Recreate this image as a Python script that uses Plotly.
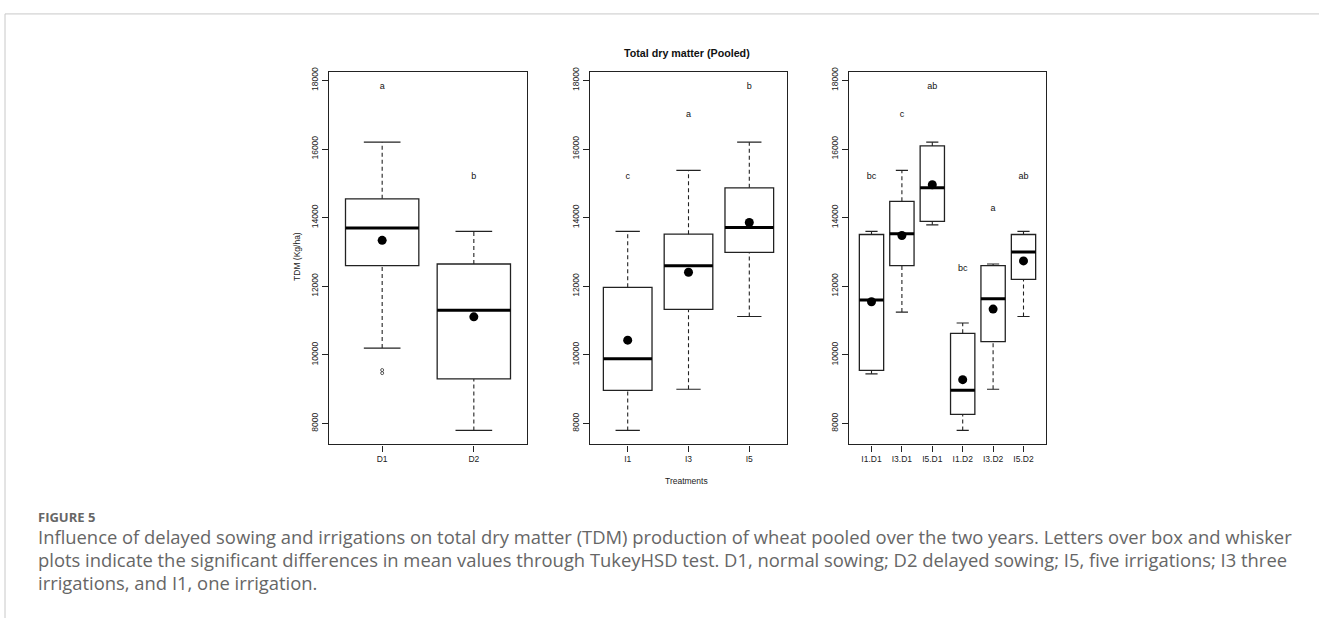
import plotly.graph_objects as go

# ---------------- data ----------------
p1_cats = ["D1", "D2"]
p1_q1 = [12600, 9300]
p1_med = [13700, 11300]
p1_q3 = [14550, 12650]
p1_lo = [10200, 7800]
p1_hi = [16200, 13600]
p1_mean = [13340, 11110]
p1_letters = ["a", "b"]
p1_letter_y = [17800, 15200]
p1_out_x = ["D1", "D1"]
p1_out_y = [9470, 9560]

p2_cats = ["I1", "I3", "I5"]
p2_q1 = [8970, 11330, 12990]
p2_med = [9890, 12600, 13710]
p2_q3 = [11970, 13520, 14870]
p2_lo = [7800, 9000, 11120]
p2_hi = [13600, 15380, 16200]
p2_mean = [10430, 12410, 13860]
p2_letters = ["c", "a", "b"]
p2_letter_y = [15200, 17000, 17800]

p3_cats = ["I1.D1", "I3.D1", "I5.D1", "I1.D2", "I3.D2", "I5.D2"]
p3_q1 = [9550, 12600, 13890, 8270, 10390, 12200]
p3_med = [11600, 13530, 14870, 8970, 11640, 13000]
p3_q3 = [13510, 14475, 16090, 10630, 12600, 13510]
p3_lo = [9450, 11250, 13790, 7800, 9000, 11120]
p3_hi = [13600, 15380, 16200, 10930, 12650, 13600]
p3_mean = [11550, 13480, 14960, 9280, 11335, 12740]
p3_letters = ["bc", "c", "ab", "bc", "a", "ab"]
p3_letter_y = [15200, 17000, 17800, 12500, 14250, 15200]

y_ticks = [8000, 10000, 12000, 14000, 16000, 18000]

caption_head = "FIGURE 5"
caption_lines = [
    "Influence of delayed sowing and irrigations on total dry matter (TDM) production of wheat pooled over the two years. Letters over box and whisker",
    "plots indicate the significant differences in mean values through TukeyHSD test. D1, normal sowing; D2 delayed sowing; I5, five irrigations; I3 three",
    "irrigations, and I1, one irrigation.",
]

# ---------------- layout geometry ----------------
W, H = 1319, 618
panels = [
    dict(cats=p1_cats, q1=p1_q1, med=p1_med, q3=p1_q3, lo=p1_lo, hi=p1_hi,
         mean=p1_mean, letters=p1_letters, ly=p1_letter_y, px=(329, 527)),
    dict(cats=p2_cats, q1=p2_q1, med=p2_med, q3=p2_q3, lo=p2_lo, hi=p2_hi,
         mean=p2_mean, letters=p2_letters, ly=p2_letter_y, px=(590, 787)),
    dict(cats=p3_cats, q1=p3_q1, med=p3_med, q3=p3_q3, lo=p3_lo, hi=p3_hi,
         mean=p3_mean, letters=p3_letters, ly=p3_letter_y, px=(849, 1046)),
]
top_px, bot_px = 68, 443
ydom = [1 - bot_px / H, 1 - top_px / H]
yrange = [7393, 18231]

FONT = "Liberation Sans, Arial, sans-serif"
BW = 0.8      # box width
CAP = 0.4     # staple width

fig = go.Figure()
annotations = []
layout_axes = {}

for i, p in enumerate(panels):
    n = len(p["cats"])
    xs = list(range(1, n + 1))
    xa = "x" if i == 0 else f"x{i+1}"
    ya = "y" if i == 0 else f"y{i+1}"

    # box bodies
    fig.add_trace(go.Box(
        x=xs, q1=p["q1"], median=p["med"], q3=p["q3"],
        lowerfence=p["q1"], upperfence=p["q3"],
        width=BW, whiskerwidth=0, fillcolor="white",
        line=dict(color="#222222", width=1.3),
        boxpoints=False, showlegend=False, hoverinfo="skip",
        xaxis=xa, yaxis=ya,
    ))

    # dashed whiskers
    wx, wy = [], []
    for k, x in enumerate(xs):
        wx += [x, x, None, x, x, None]
        wy += [p["q3"][k], p["hi"][k], None, p["lo"][k], p["q1"][k], None]
    fig.add_trace(go.Scatter(x=wx, y=wy, mode="lines",
                             line=dict(color="#222222", width=1.1, dash="4px,3px"),
                             showlegend=False, hoverinfo="skip", xaxis=xa, yaxis=ya))
    # staples
    sx, sy = [], []
    for k, x in enumerate(xs):
        sx += [x - CAP / 2, x + CAP / 2, None, x - CAP / 2, x + CAP / 2, None]
        sy += [p["hi"][k], p["hi"][k], None, p["lo"][k], p["lo"][k], None]
    fig.add_trace(go.Scatter(x=sx, y=sy, mode="lines",
                             line=dict(color="#222222", width=1.2),
                             showlegend=False, hoverinfo="skip", xaxis=xa, yaxis=ya))
    # thick medians
    mx, my = [], []
    for k, x in enumerate(xs):
        mx += [x - BW / 2, x + BW / 2, None]
        my += [p["med"][k], p["med"][k], None]
    fig.add_trace(go.Scatter(x=mx, y=my, mode="lines",
                             line=dict(color="black", width=3),
                             showlegend=False, hoverinfo="skip", xaxis=xa, yaxis=ya))
    # means
    fig.add_trace(go.Scatter(x=xs, y=p["mean"], mode="markers",
                             marker=dict(color="black", size=9),
                             showlegend=False, hoverinfo="skip", xaxis=xa, yaxis=ya))
    # letters
    fig.add_trace(go.Scatter(x=xs, y=p["ly"], mode="text", text=p["letters"],
                             textfont=dict(family=FONT, size=9, color="#111111"),
                             showlegend=False, hoverinfo="skip", xaxis=xa, yaxis=ya))

    x0, x1 = p["px"]
    xkey = "xaxis" if i == 0 else f"xaxis{i+1}"
    ykey = "yaxis" if i == 0 else f"yaxis{i+1}"
    layout_axes[xkey] = dict(
        domain=[x0 / W, x1 / W], range=[0.5 - 0.04 * n, n + 0.5 + 0.04 * n],
        anchor=ya, tickvals=xs, ticktext=p["cats"], showgrid=False, zeroline=False,
        showline=True, mirror=True, linecolor="#222222", linewidth=1.3,
        ticks="outside", ticklen=6, tickcolor="#222222", tickwidth=1,
        tickfont=dict(family=FONT, size=8.5, color="#222222"),
        fixedrange=True,
    )
    layout_axes[ykey] = dict(
        domain=ydom, range=yrange, anchor=xa, tickvals=y_ticks,
        ticktext=[str(v) for v in y_ticks], tickangle=-90,
        showgrid=False, zeroline=False,
        showline=True, mirror=True, linecolor="#222222", linewidth=1.3,
        ticks="outside", ticklen=6, tickcolor="#222222", tickwidth=1,
        tickfont=dict(family=FONT, size=8.5, color="#222222"),
        fixedrange=True,
    )

# outlier (panel 1)
fig.add_trace(go.Scatter(x=[p1_cats.index(c) + 1 for c in p1_out_x], y=p1_out_y,
                         mode="markers",
                         marker=dict(symbol="circle-open", size=3, color="#333333",
                                     line=dict(width=0.8)),
                         showlegend=False, hoverinfo="skip", xaxis="x", yaxis="y"))

# titles
annotations.append(dict(text="<b>Total dry matter (Pooled)</b>", x=687 / W, y=1 - 48 / H,
                        xref="paper", yref="paper", showarrow=False,
                        font=dict(family=FONT, size=10.7, color="#111111"),
                        xanchor="center", yanchor="middle"))
annotations.append(dict(text="Treatments", x=687 / W, y=1 - 480 / H,
                        xref="paper", yref="paper", showarrow=False,
                        font=dict(family=FONT, size=8.5, color="#222222"),
                        xanchor="center", yanchor="middle"))
annotations.append(dict(text="TDM (Kg/ha)", x=297 / W, y=1 - 254 / H, textangle=-90,
                        xref="paper", yref="paper", showarrow=False,
                        font=dict(family=FONT, size=8.5, color="#222222"),
                        xanchor="center", yanchor="middle"))

# caption
CAPFONT = "Open Sans, Lato, sans-serif"
annotations.append(dict(text="<b>" + caption_head + "</b>", x=36 / W, y=1 - 516 / H,
                        xref="paper", yref="paper", showarrow=False,
                        font=dict(family=CAPFONT, size=13, color="#666666"),
                        xanchor="left", yanchor="middle"))
for j, line in enumerate(caption_lines):
    annotations.append(dict(text=line, x=36 / W, y=1 - (536 + 23.3 * j) / H,
                            xref="paper", yref="paper", showarrow=False,
                            font=dict(family=CAPFONT, size=18.4, color="#666666"),
                            xanchor="left", yanchor="middle"))

shapes = [
    dict(type="line", xref="paper", yref="paper", x0=5 / W, x1=1, y0=1 - 9 / H, y1=1 - 9 / H,
         line=dict(color="#c8c8c8", width=1)),
    dict(type="line", xref="paper", yref="paper", x0=5 / W, x1=5 / W, y0=0, y1=1 - 9 / H,
         line=dict(color="#c8c8c8", width=1)),
]

fig.update_layout(
    width=W, height=H, margin=dict(l=0, r=0, t=0, b=0),
    paper_bgcolor="white", plot_bgcolor="white",
    showlegend=False, annotations=annotations, shapes=shapes,
    **layout_axes,
)

fig.write_html("out.html", config={"displayModeBar": False})
